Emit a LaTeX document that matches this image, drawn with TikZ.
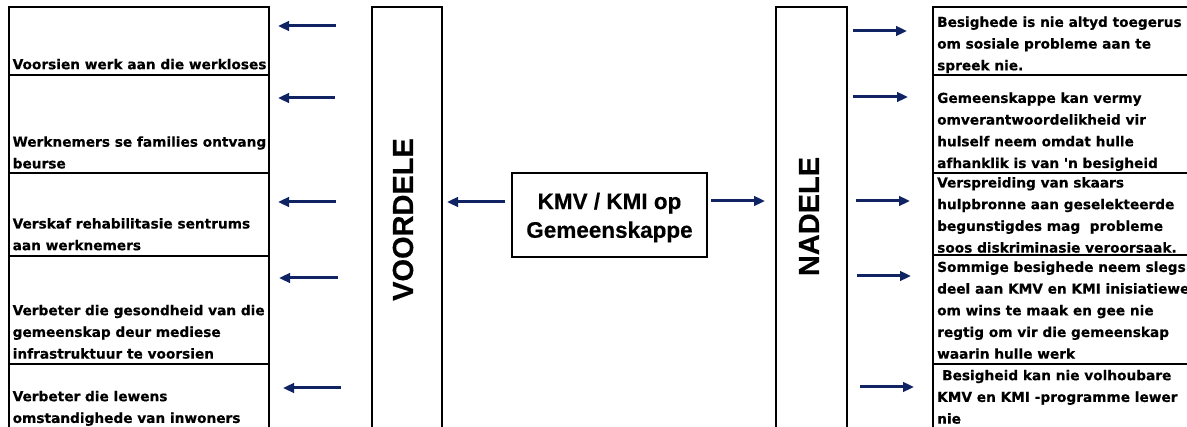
\documentclass[tikz,border=0pt]{standalone}
\usepackage{fontspec}
\usetikzlibrary{arrows.meta}
\newfontfamily\dvs{DejaVu Sans}[BoldFeatures={FakeBold=0.4}]
\newfontfamily\arl{Liberation Sans}[BoldFeatures={FakeBold=0.3}]
\definecolor{navy}{RGB}{16,36,100}
\begin{document}
\begin{tikzpicture}[x=1pt,y=-1pt,
  boxst/.style={draw=black,line width=1.8pt,rectangle,inner sep=0,outer sep=0,anchor=north west},
  txt/.style={anchor=north west,inner sep=0,align=left,font=\dvs\bfseries\fontsize{13.7}{21.7}\selectfont},
  big/.style={font=\arl\bfseries\fontsize{29}{32}\selectfont,inner sep=0},
  arr/.style={draw=navy,line width=3pt,-{Triangle[length=11pt,width=9.5pt]}}]
\useasboundingbox (0,0) rectangle (1187,427);
\clip (0,0) rectangle (1187,427);
\fill[white] (0,0) rectangle (1187,427);
% left boxes
\node[boxst,minimum width=260pt,minimum height=68pt] (L1) at (9,7) {};
\node[boxst,minimum width=260pt,minimum height=98pt] (L2) at (9,75) {};
\node[boxst,minimum width=260pt,minimum height=83pt] (L3) at (9,173) {};
\node[boxst,minimum width=260pt,minimum height=108pt] (L4) at (9,256) {};
\node[boxst,minimum width=260pt,minimum height=80pt] (L5) at (9,364) {};
% middle tall boxes
\node[boxst,minimum width=70pt,minimum height=440pt] (V) at (372,7) {};
\node[boxst,minimum width=71pt,minimum height=440pt] (N) at (776,7) {};
% right boxes
\node[boxst,minimum width=270pt,minimum height=68pt] (R1) at (933,7) {};
\node[boxst,minimum width=270pt,minimum height=98pt] (R2) at (933,75) {};
\node[boxst,minimum width=270pt,minimum height=82pt] (R3) at (933,173) {};
\node[boxst,minimum width=270pt,minimum height=109pt] (R4) at (933,255) {};
\node[boxst,minimum width=270pt,minimum height=80pt] (R5) at (933,364) {};
% center box
\node[boxst,minimum width=195pt,minimum height=84pt] (C) at (512,173) {};
% texts
\node[txt] (L1t) at (12.5,57) {\rule{0pt}{12pt}Voorsien werk aan die werkloses};
\node[txt] (L2t) at (12.5,134.5) {\rule{0pt}{12pt}Werknemers se families ontvang\\beurse};
\node[txt] (L3t) at (12.5,216.3) {\rule{0pt}{12pt}Verskaf rehabilitasie sentrums\\aan werknemers};
\node[txt] (L4t) at (12.5,303) {\rule{0pt}{12pt}Verbeter die gesondheid van die\\gemeenskap deur mediese\\infrastruktuur te voorsien};
\node[txt] (L5t) at (12.5,389) {\rule{0pt}{12pt}Verbeter die lewens\\omstandighede van inwoners};
\node[txt] (R1t) at (937,14.7) {\rule{0pt}{12pt}Besighede is nie altyd toegerus\\om sosiale probleme aan te\\spreek nie.};
\node[txt] (R2t) at (937,90.7) {\rule{0pt}{12pt}Gemeenskappe kan vermy\\omverantwoordelikheid vir\\hulself neem omdat hulle\\afhanklik is van \char39n besigheid};
\node[txt] (R3t) at (937,175.3) {\rule{0pt}{12pt}Verspreiding van skaars\\hulpbronne aan geselekteerde\\begunstigdes mag\ \ probleme\\soos diskriminasie veroorsaak.};
\node[txt] (R4t) at (937,259.7) {\rule{0pt}{12pt}Sommige besighede neem slegs\\deel aan KMV en KMI inisiatiewe\\om wins te maak en gee nie\\regtig om vir die gemeenskap\\waarin hulle werk};
\node[txt] (R5t) at (937,368) {\rule{0pt}{12pt}\hspace*{5pt}Besigheid kan nie volhoubare\\KMV en KMI -programme lewer\\nie};
\node[big,rotate=90] (Vt) at (403,219.5) {VOORDELE};
\node[big,rotate=90] (Nt) at (809,216.5) {NADELE};
\node[inner sep=0,align=center,font=\arl\bfseries\fontsize{22.5}{28.7}\selectfont] (Ct) at (609.5,217.6) {KMV / KMI op\\Gemeenskappe};
% arrow coordinates
\coordinate (la1s) at (336,26);  \coordinate (la1e) at (278,26);
\coordinate (la2s) at (335,98);  \coordinate (la2e) at (278,98);
\coordinate (la3s) at (336,202); \coordinate (la3e) at (278,202);
\coordinate (la4s) at (338,278); \coordinate (la4e) at (279,278);
\coordinate (la5s) at (341,388); \coordinate (la5e) at (283,388);
\coordinate (ra1s) at (853,31);  \coordinate (ra1e) at (907,31);
\coordinate (ra2s) at (853,97);  \coordinate (ra2e) at (908,97);
\coordinate (ra3s) at (856,201); \coordinate (ra3e) at (910,201);
\coordinate (ra4s) at (857,276); \coordinate (ra4e) at (911,276);
\coordinate (ra5s) at (860,387); \coordinate (ra5e) at (914,387);
\coordinate (cls) at (505,202);  \coordinate (cle) at (447,202);
\coordinate (crs) at (711,201);  \coordinate (cre) at (765,201);
\draw[arr] (la1s) -- (la1e);
\draw[arr] (la2s) -- (la2e);
\draw[arr] (la3s) -- (la3e);
\draw[arr] (la4s) -- (la4e);
\draw[arr] (la5s) -- (la5e);
\draw[arr] (ra1s) -- (ra1e);
\draw[arr] (ra2s) -- (ra2e);
\draw[arr] (ra3s) -- (ra3e);
\draw[arr] (ra4s) -- (ra4e);
\draw[arr] (ra5s) -- (ra5e);
\draw[arr] (cls) -- (cle);
\draw[arr] (crs) -- (cre);
\end{tikzpicture}
\end{document}
